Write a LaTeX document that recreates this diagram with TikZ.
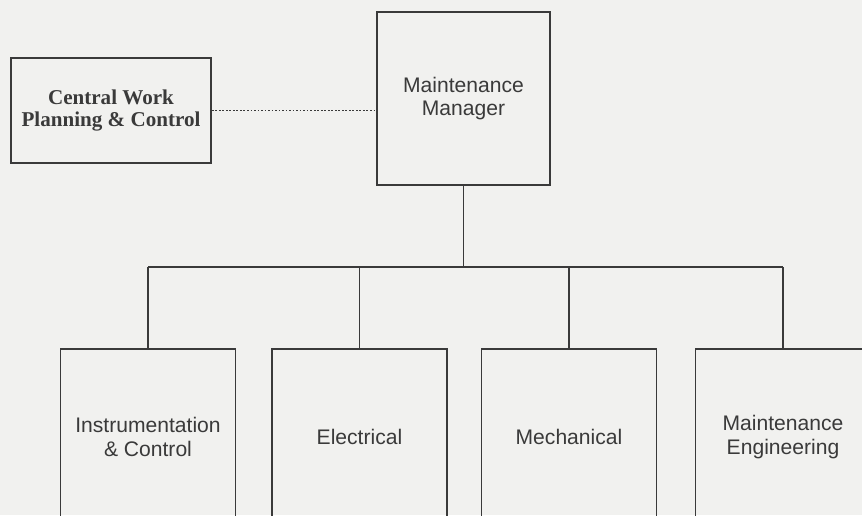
\documentclass[tikz,border=0pt]{standalone}
\usepackage{fontspec}
\setmainfont{Liberation Serif}
\setsansfont{Liberation Sans}
\usetikzlibrary{positioning}
\definecolor{ink}{RGB}{58,58,58}
\definecolor{paper}{RGB}{241,241,239}

\begin{document}
\begin{tikzpicture}[x=0.02cm, y=-0.02cm, line width=1pt,
	every node/.style={font=\sffamily\fontsize{12}{13.2}\selectfont, text=ink},
	unit/.style={draw=ink, align=center, inner sep=0pt, minimum width=3.5cm, minimum height=3.52cm}]
	\fill[paper] (0,0) rectangle (862,515);
	\useasboundingbox (0,0) rectangle (862,515);
	\node[unit, minimum width=3.46cm, minimum height=3.46cm] (mgr) at (463.5,98.5) {Maintenance\\Manager};
	\node[unit, minimum width=4cm, minimum height=2.1cm, font=\rmfamily\bfseries\fontsize{12}{12.6}\selectfont] (cwpc) at (111,110.5) {Central Work\\Planning \& Control};
	\draw[ink, densely dotted] (cwpc.east) -- (cwpc.east -| mgr.west);
	\coordinate (bus) at (463.5,267);
	\node[unit] (ic) at (148,437) {Instrumentation\\\& Control};
	\node[unit] (elec) at (359.5,437) {Electrical};
	\node[unit] (mech) at (569,437) {Mechanical};
	\node[unit] (meng) at (783,437) {Maintenance\\Engineering};
	\draw[ink] (mgr.south) -- (bus);
	\draw[ink] (ic.north |- bus) -- (meng.north |- bus);
	\foreach \u in {ic,elec,mech,meng} {\draw[ink] (\u.north |- bus) -- (\u.north);}
\end{tikzpicture}
\end{document}
